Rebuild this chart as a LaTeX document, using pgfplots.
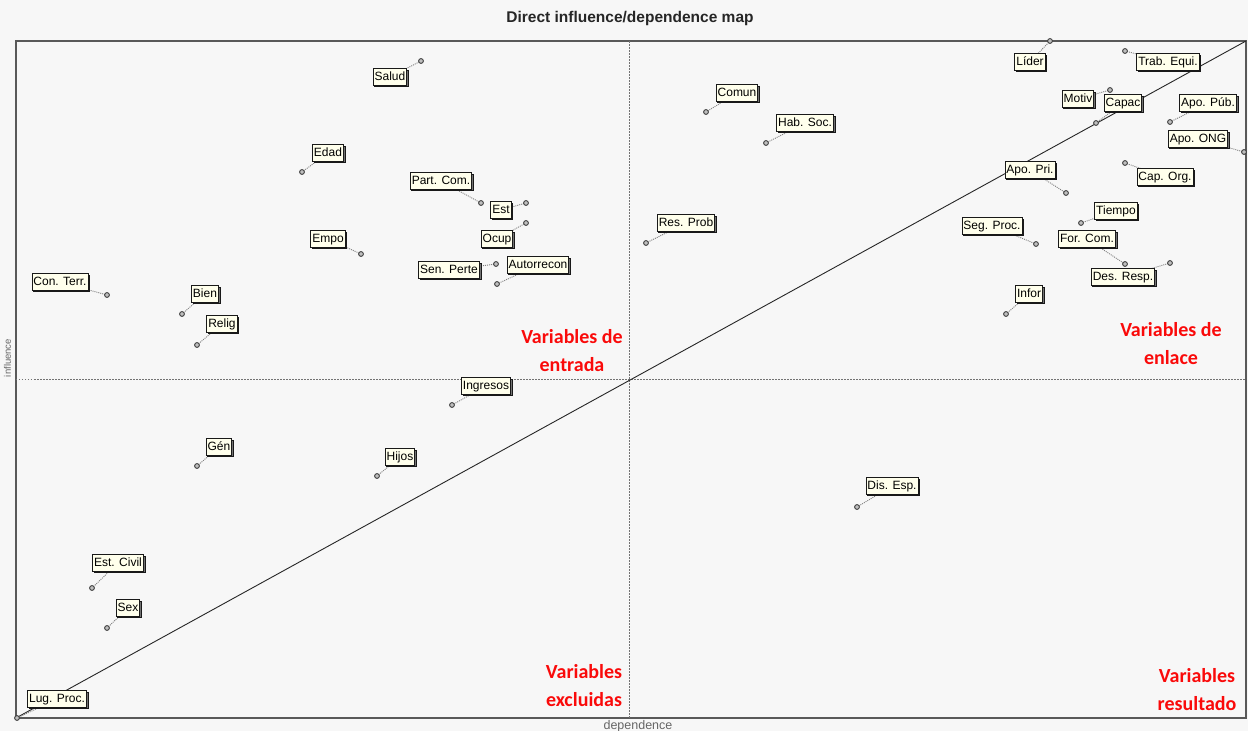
\documentclass[border=0pt]{standalone}
\usepackage{pgfplots}
\pgfplotsset{compat=1.18}
\usepackage{pgfplotstable}
\usepackage{fontspec}
\setmainfont{Liberation Sans}
\newfontfamily\carl{Carlito}
\usetikzlibrary{shadows}
\definecolor{bgcol}{RGB}{247,247,247}
\definecolor{boxcol}{RGB}{255,255,236}
\definecolor{redtxt}{RGB}{250,10,10}

\pgfplotstableread[col sep=comma]{
x,y,lx,ly,name
405,657,374,641,Salud
286,546,312,565,Edad
465,515,425,537,Part. Com.
510,515,485,508,Est
510,495,481,479,Ocup
481,434,522,453,Autorrecon
480,454,433,448,Sen. Perte
345,464,312,479,Empo
91,423,44,436,Con. Terr.
166,404,189,424,Bien
181,373,206,394,Relig
690,606,721,625,Comun
750,575,789,595,Hab. Soc.
630,475,670,495,Res. Prob
436,313,470,332,Ingresos
361,242,384,261,Hijos
181,252,203,271,Gén
76,130,102,155,Est. Civil
91,90,112,110,Sex
1,0,41,19,Lug. Proc.
841,211,876,232,Dis. Esp.
1034,677,1014,656,Líder
1109,667,1152,656,Trab. Equi.
1094,628,1062,619,Motiv
1080,595,1107,615,Capac
1154,596,1192,615,Apo. Púb.
1228,566,1182,579,Apo. ONG
1050,525,1014,548,Apo. Pri.
1109,555,1149,541,Cap. Org.
1065,495,1100,507,Tiempo
1020,474,976,492,Seg. Proc.
1109,454,1071,479,For. Com.
1154,455,1107,441,Des. Resp.
990,404,1013,424,Infor
}\mapdata

\begin{document}
\begin{tikzpicture}
\useasboundingbox (-16pt,-13pt) rectangle (1232pt,718pt);
\fill[bgcol] (-16pt,-13pt) rectangle (1232pt,718pt);
\begin{axis}[
  at={(0pt,0pt)}, anchor=south west,
  scale only axis, width=1230pt, height=677pt,
  xmin=0, xmax=1230, ymin=0, ymax=677,
  xtick=\empty, ytick=\empty,
  clip=false,
  axis line style={draw=black!65, line width=1.3pt},
  axis background/.style={fill=bgcol},
]
% quadrant lines
\addplot[black!55, line width=0.6pt, dash pattern=on 1.5pt off 1.5pt] coordinates {(613,0) (613,677)};
\addplot[black!55, line width=0.6pt, dash pattern=on 1.5pt off 1.5pt] coordinates {(0,339) (1230,339)};
% diagonal
\addplot[black!85, line width=0.9pt] coordinates {(0,0) (1230,677)};
% leader lines
\addplot[black!50, line width=0.9pt, dash pattern=on 1pt off 1pt,
  quiver={u=\thisrow{lx}-\thisrow{x}, v=\thisrow{ly}-\thisrow{y}}]
  table[x=x, y=y] {\mapdata};
% labels
\addplot[only marks, mark=none,
  point meta=explicit symbolic,
  nodes near coords,
  nodes near coords align=center,
  every node near coord/.append style={anchor=center, font=\fontsize{12}{13}\selectfont,
    fill=boxcol, draw=black!90, line width=0.8pt, inner xsep=1.5pt, inner ysep=2.5pt,
    text height=9pt, text depth=2.5pt,
    drop shadow={shadow xshift=1.6pt, shadow yshift=-1.6pt, fill=black!55, opacity=1}},
  ] table[x=lx, y=ly, meta=name] {\mapdata};
% markers
\addplot[only marks, mark=*, mark size=2.4pt,
  mark options={fill=black!25, draw=black!75, line width=0.9pt}]
  table[x=x, y=y] {\mapdata};
% quadrant texts
\node[text=redtxt, align=center, font=\carl\bfseries\fontsize{20}{28}\selectfont] at (axis cs:556,367) {Variables de\\entrada};
\node[text=redtxt, align=center, font=\carl\bfseries\fontsize{20}{28}\selectfont] at (axis cs:1155,374) {Variables de\\enlace};
\node[text=redtxt, align=center, font=\carl\bfseries\fontsize{20}{28}\selectfont] at (axis cs:568,32) {Variables\\excluidas};
\node[text=redtxt, align=center, font=\carl\bfseries\fontsize{20}{28}\selectfont] at (axis cs:1181,28) {Variables\\resultado};
% title and axis names
\node[font=\bfseries\fontsize{15.5}{17}\selectfont, text=black!85] at (axis cs:614,699) {Direct influence/dependence map};
\node[font=\fontsize{12.5}{13}\selectfont, text=black!60] at (axis cs:622,-8) {dependence};
\node[font=\fontsize{9.5}{10}\selectfont, text=black!60, rotate=90] at (axis cs:-8.5,360) {influence};
\end{axis}
\end{tikzpicture}
\end{document}
